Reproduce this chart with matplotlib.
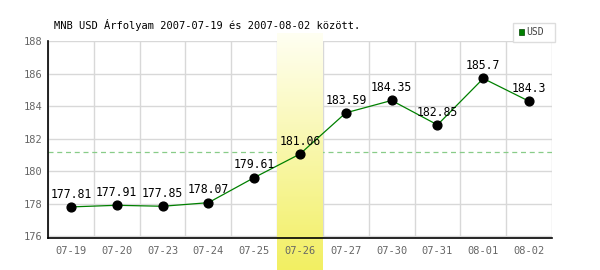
import matplotlib
matplotlib.use("Agg")
import matplotlib.pyplot as plt
import numpy as np
from matplotlib.colors import LinearSegmentedColormap

dates = ["07-19", "07-20", "07-23", "07-24", "07-25", "07-26",
         "07-27", "07-30", "07-31", "08-01", "08-02"]
usd = [177.81, 177.91, 177.85, 178.07, 179.61, 181.06,
       183.59, 184.35, 182.85, 185.7, 184.3]
labels = ["177.81", "177.91", "177.85", "178.07", "179.61", "181.06",
          "183.59", "184.35", "182.85", "185.7", "184.3"]
highlight = 5
title = "MNB USD Árfolyam 2007-07-19 és 2007-08-02 között."

plt.rcParams['font.family'] = ['DejaVu Sans Mono']

fig = plt.figure(figsize=(6, 2.7), dpi=100)
ax = fig.add_axes([0.08, 0.1185, 0.84, 0.7295])
ax.set_facecolor("white")

x = np.arange(len(dates))
y0, y1 = 175.9, 188.0
ax.set_xlim(-0.5, len(dates) - 0.5)
ax.set_ylim(y0, y1)

# grid
ax.set_axisbelow(True)
ax.set_xticks(np.arange(len(dates) + 1) - 0.5, minor=True)
ax.set_xticks(x)
# highlighted label is drawn separately so it sits above the gradient
ax.set_xticklabels([d if i != highlight else "" for i, d in enumerate(dates)])
ax.set_yticks(np.arange(176, 189, 2))
ax.grid(True, which="minor", axis="x", color="#d8d8d8", lw=1)
ax.grid(True, which="major", axis="y", color="#d8d8d8", lw=1)
ax.tick_params(which="both", length=0, labelsize=7.5, colors="#666666", pad=6)
ax.tick_params(axis="y", pad=4)

for s in ["top", "right"]:
    ax.spines[s].set_visible(False)
ax.spines["left"].set_color("black")
ax.spines["bottom"].set_color("black")
ax.spines["left"].set_linewidth(1.2)
ax.spines["bottom"].set_linewidth(1.2)
ax.spines["bottom"].set_zorder(3)

# average dashed line
ax.axhline(np.mean(usd), color="#88cc88", ls=(0, (4, 3)), lw=0.9, zorder=1)

# highlighted column gradient
cmap = LinearSegmentedColormap.from_list("hl", ["#fffff2", "#f2ef62"])
grad = np.linspace(0, 1, 256).reshape(-1, 1)
span = y1 - y0
ax.imshow(grad, cmap=cmap, aspect="auto",
          extent=[highlight - 0.5, highlight + 0.5, y0 - span * 32 / 197, y1 + span * 8 / 197],
          origin="upper", zorder=2, clip_on=False)
ax.annotate(dates[highlight], (highlight, 0), xycoords=("data", "axes fraction"),
            xytext=(0, -6), textcoords="offset points", ha="center", va="top",
            fontsize=7.5, color="#666666", zorder=6, annotation_clip=False)

ax.plot(x, usd, color="green", lw=0.9, zorder=4)
ax.scatter(x, usd, s=40, color="black", zorder=5)
for xi, yi, lab in zip(x, usd, labels):
    ax.annotate(lab, (xi, yi), xytext=(0, 4.5), textcoords="offset points",
                ha="center", va="bottom", fontsize=8.3, color="black", zorder=6)

fig.text(54 / 600, 1 - 25 / 270, title, fontsize=7.5, color="black", va="center")

# legend box
lx, ly, lw_, lh = 513 / 600, 1 - 42 / 270, 42 / 600, 19 / 270
fig.patches.append(plt.Rectangle((lx, ly), lw_, lh, transform=fig.transFigure,
                                 facecolor="white", edgecolor="#dddddd", lw=1))
fig.patches.append(plt.Rectangle((519 / 600, 1 - 35 / 270), 5 / 600, 6 / 270,
                                 transform=fig.transFigure, facecolor="#008000",
                                 edgecolor="#004400", lw=0.5))
fig.text(526 / 600, 1 - 32 / 270, "USD", fontsize=7, color="#444444", va="center")

fig.savefig("out.png", dpi=100)
